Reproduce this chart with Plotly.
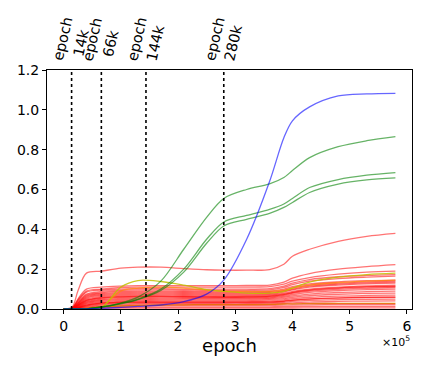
import plotly.graph_objects as go

# epochs at which every curve was sampled
epochs = [0, 15000, 25000, 40000, 66000, 100000, 130000, 170000, 210000, 250000,
          280000, 320000, 360000, 385000, 400000, 430000, 480000, 530000, 580000]

# red curves (bulk of the units)
red_curves = [
    [0, 0.01, 0.09, 0.18, 0.19, 0.205, 0.21, 0.21, 0.203, 0.197, 0.195, 0.195, 0.198, 0.225, 0.265, 0.3, 0.34, 0.365, 0.38],
    [0, 0.005, 0.05, 0.1, 0.11, 0.115, 0.117, 0.117, 0.117, 0.117, 0.117, 0.118, 0.12, 0.135, 0.155, 0.178, 0.2, 0.213, 0.223],
    [0, 0.004, 0.045, 0.09, 0.1, 0.108, 0.11, 0.11, 0.11, 0.11, 0.11, 0.11, 0.112, 0.125, 0.14, 0.158, 0.175, 0.185, 0.19],
    [0, 0.004, 0.04, 0.085, 0.095, 0.1, 0.102, 0.102, 0.1, 0.1, 0.1, 0.1, 0.102, 0.115, 0.13, 0.148, 0.162, 0.169, 0.173],
    [0, 0.003, 0.035, 0.075, 0.088, 0.094, 0.096, 0.096, 0.095, 0.094, 0.094, 0.094, 0.096, 0.108, 0.122, 0.14, 0.153, 0.16, 0.165],
    [0, 0.003, 0.03, 0.07, 0.082, 0.088, 0.09, 0.09, 0.089, 0.088, 0.087, 0.087, 0.089, 0.1, 0.112, 0.126, 0.136, 0.142, 0.145],
    [0, 0.003, 0.028, 0.065, 0.078, 0.083, 0.085, 0.085, 0.084, 0.083, 0.082, 0.082, 0.084, 0.094, 0.106, 0.12, 0.13, 0.136, 0.14],
    [0, 0.002, 0.025, 0.06, 0.073, 0.078, 0.08, 0.08, 0.079, 0.078, 0.077, 0.077, 0.079, 0.09, 0.1, 0.115, 0.125, 0.131, 0.135],
    [0, 0.002, 0.022, 0.055, 0.068, 0.073, 0.075, 0.075, 0.074, 0.073, 0.072, 0.072, 0.074, 0.085, 0.096, 0.11, 0.12, 0.126, 0.13],
    [0, 0.002, 0.02, 0.05, 0.063, 0.068, 0.07, 0.07, 0.069, 0.068, 0.067, 0.067, 0.069, 0.078, 0.088, 0.1, 0.11, 0.116, 0.12],
    [0, 0.002, 0.018, 0.045, 0.058, 0.063, 0.065, 0.065, 0.064, 0.063, 0.062, 0.063, 0.065, 0.074, 0.084, 0.096, 0.106, 0.112, 0.115],
    [0, 0.002, 0.017, 0.043, 0.056, 0.061, 0.063, 0.063, 0.062, 0.061, 0.06, 0.061, 0.063, 0.072, 0.082, 0.094, 0.104, 0.11, 0.113],
    [0, 0.001, 0.015, 0.04, 0.053, 0.058, 0.06, 0.06, 0.059, 0.058, 0.058, 0.058, 0.06, 0.068, 0.078, 0.09, 0.099, 0.104, 0.108],
    [0, 0.001, 0.013, 0.036, 0.048, 0.053, 0.055, 0.055, 0.054, 0.054, 0.054, 0.054, 0.056, 0.063, 0.072, 0.083, 0.092, 0.097, 0.1],
    [0, 0.001, 0.011, 0.032, 0.044, 0.048, 0.05, 0.05, 0.05, 0.05, 0.05, 0.05, 0.052, 0.058, 0.066, 0.075, 0.083, 0.087, 0.09],
    [0, 0.001, 0.009, 0.028, 0.039, 0.043, 0.045, 0.045, 0.045, 0.045, 0.045, 0.045, 0.047, 0.052, 0.059, 0.067, 0.074, 0.078, 0.08],
    [0, 0.001, 0.008, 0.024, 0.034, 0.038, 0.04, 0.04, 0.04, 0.04, 0.04, 0.04, 0.041, 0.046, 0.052, 0.059, 0.065, 0.068, 0.07],
    [0, 0.001, 0.006, 0.02, 0.03, 0.034, 0.035, 0.035, 0.035, 0.035, 0.035, 0.035, 0.036, 0.04, 0.045, 0.051, 0.056, 0.059, 0.06],
    [0, 0.001, 0.006, 0.019, 0.029, 0.033, 0.034, 0.034, 0.034, 0.034, 0.034, 0.034, 0.035, 0.039, 0.044, 0.05, 0.055, 0.058, 0.059],
    [0, 0, 0.005, 0.016, 0.025, 0.029, 0.03, 0.03, 0.03, 0.03, 0.03, 0.03, 0.031, 0.034, 0.038, 0.043, 0.047, 0.049, 0.05],
    [0, 0, 0.004, 0.013, 0.02, 0.023, 0.025, 0.025, 0.025, 0.025, 0.025, 0.025, 0.026, 0.028, 0.031, 0.035, 0.038, 0.04, 0.041],
    [0, 0, 0.003, 0.009, 0.014, 0.017, 0.018, 0.018, 0.018, 0.018, 0.018, 0.018, 0.018, 0.019, 0.02, 0.021, 0.022, 0.022, 0.022],
    [0, 0, 0.002, 0.006, 0.009, 0.01, 0.011, 0.011, 0.011, 0.011, 0.011, 0.011, 0.011, 0.012, 0.012, 0.013, 0.013, 0.013, 0.013],
    [0, 0, 0.001, 0.003, 0.004, 0.005, 0.005, 0.005, 0.005, 0.005, 0.005, 0.005, 0.005, 0.005, 0.005, 0.006, 0.006, 0.006, 0.006],
]

yellow_curve = [0, 0, 0, 0.001, 0.006, 0.11, 0.143, 0.138, 0.12, 0.097, 0.088, 0.08, 0.08, 0.088, 0.105, 0.135, 0.16, 0.173, 0.18]
orange_curves = [
    [0, 0, 0, 0.001, 0.01, 0.09, 0.105, 0.11, 0.105, 0.095, 0.09, 0.088, 0.088, 0.095, 0.105, 0.12, 0.133, 0.14, 0.145],
    [0, 0, 0.001, 0.004, 0.01, 0.015, 0.018, 0.02, 0.021, 0.022, 0.022, 0.022, 0.023, 0.025, 0.026, 0.027, 0.028, 0.028, 0.028],
]
green_curves = [
    [0, 0, 0, 0.001, 0.01, 0.03, 0.06, 0.14, 0.3, 0.46, 0.555, 0.6, 0.628, 0.66, 0.695, 0.76, 0.815, 0.845, 0.865],
    [0, 0, 0, 0.001, 0.01, 0.028, 0.05, 0.1, 0.2, 0.35, 0.437, 0.47, 0.5, 0.527, 0.555, 0.61, 0.65, 0.672, 0.685],
    [0, 0, 0, 0.001, 0.009, 0.026, 0.047, 0.093, 0.185, 0.33, 0.417, 0.45, 0.48, 0.51, 0.535, 0.585, 0.627, 0.648, 0.658],
]
blue_curve = [0, 0, 0, 0.001, 0.003, 0.008, 0.013, 0.02, 0.037, 0.075, 0.145, 0.35, 0.64, 0.86, 0.945, 1.015, 1.07, 1.08, 1.083]

marker_epochs = [14000, 66000, 144000, 280000]
marker_labels = ["14k", "66k", "144k", "280k"]

FONT = "DejaVu Sans"

fig = go.Figure()


def add_curve(ys, color, width=1.3):
    fig.add_trace(go.Scatter(
        x=epochs, y=ys, mode="lines",
        line=dict(color=color, width=width, shape="spline", smoothing=0.9),
        hoverinfo="skip", showlegend=False,
    ))


for ys in red_curves:
    add_curve(ys, "rgba(255,0,0,0.55)")
add_curve(orange_curves[1], "rgba(230,110,0,0.9)")
add_curve(orange_curves[0], "rgba(255,140,0,0.65)")
add_curve(yellow_curve, "rgba(191,191,0,0.85)")
for ys in green_curves:
    add_curve(ys, "rgba(0,128,0,0.6)")
add_curve(blue_curve, "rgba(0,0,255,0.6)")

for ep, lab in zip(marker_epochs, marker_labels):
    fig.add_vline(x=ep, line=dict(color="black", width=1.6, dash="dot"))
    fig.add_annotation(
        x=ep, xref="x", y=1, yref="paper", yanchor="bottom", xanchor="center",
        text=f"epoch<br>{lab}", textangle=-77, showarrow=False, yshift=1,
        font=dict(family=FONT, size=14.5, color="black"),
    )

fig.add_annotation(
    x=1, xref="paper", y=-0.135, yref="paper", xanchor="right", yanchor="middle",
    text="×10<sup>5</sup>", showarrow=False, font=dict(family=FONT, size=11, color="black"),
)

# page body has an 8px margin, so the figure is 8px smaller on each axis
fig.update_layout(
    width=415, height=359,
    margin=dict(l=39, r=11, t=62, b=58, autoexpand=False),
    plot_bgcolor="white", paper_bgcolor="white",
    font=dict(family=FONT, size=14, color="black"),
)
fig.update_xaxes(
    range=[-29000, 609000],
    tickvals=[0, 100000, 200000, 300000, 400000, 500000, 600000],
    ticktext=["0", "1", "2", "3", "4", "5", "6"],
    ticks="outside", ticklen=4, tickcolor="black",
    showline=True, linecolor="black", linewidth=1, mirror=True,
    showgrid=False, zeroline=False, automargin=False,
    title=dict(text="epoch", font=dict(size=18), standoff=6),
)
fig.update_yaxes(
    range=[0, 1.2],
    tickvals=[0, 0.2, 0.4, 0.6, 0.8, 1.0, 1.2],
    ticktext=["0.0", "0.2", "0.4", "0.6", "0.8", "1.0", "1.2"],
    ticks="outside", ticklen=4, tickcolor="black",
    showline=True, linecolor="black", linewidth=1, mirror=True,
    showgrid=False, zeroline=False, automargin=False,
)

fig.write_html("out.html")
